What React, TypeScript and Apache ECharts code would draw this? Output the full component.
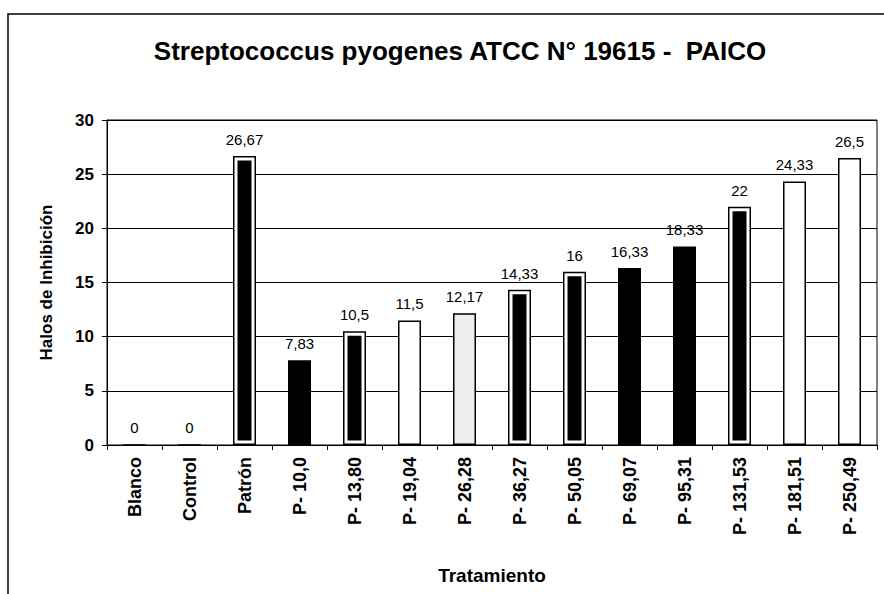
import React, { useEffect, useRef } from "react";
import * as echarts from "echarts";

const categories = [
  "Blanco", "Control", "Patrón", "P- 10,0", "P- 13,80", "P- 19,04", "P- 26,28",
  "P- 36,27", "P- 50,05", "P- 69,07", "P- 95,31", "P- 131,53", "P- 181,51", "P- 250,49",
];
const values = [0, 0, 26.67, 7.83, 10.5, 11.5, 12.17, 14.33, 16, 16.33, 18.33, 22, 24.33, 26.5];
// bar look: "double" = black inside a white ring and black outline, "black" = solid, "white" = hollow, "light" = speckled
const styles = [
  "white", "white", "double", "black", "double", "white", "light",
  "double", "double", "black", "black", "double", "white", "white",
];
const yTicks = [0, 5, 10, 15, 20, 25, 30];

const FONT = "Liberation Sans, Arial, sans-serif";

export default function App() {
  const ref = useRef<HTMLDivElement>(null);
  useEffect(() => {
    if (!ref.current) return;
    const chart = echarts.init(ref.current, null, { renderer: "svg" });
    const fillFor = (s: string) =>
      s === "black" ? "#000" : s === "double" ? "transparent" : s === "light" ? "#eeeeee" : "#fff";
    chart.setOption({
      animation: false,
      backgroundColor: "#fff",
      title: {
        text: "Streptococcus pyogenes ATCC N° 19615 -  PAICO",
        left: 455,
        textAlign: "center",
        top: 33,
        textStyle: { fontFamily: FONT, fontSize: 26, fontWeight: "bold", color: "#000" },
      },
      graphic: [
        {
          type: "rect",
          shape: { x: 8, y: 14, width: 900, height: 600 },
          style: { fill: "none", stroke: "#000", lineWidth: 1.5 },
          silent: true,
        },
      ],
      grid: {
        left: 107,
        top: 120,
        right: 7,
        bottom: 149,
        show: true,
        borderColor: "#000",
        borderWidth: 1,
      },
      xAxis: {
        type: "category",
        data: categories,
        name: "Tratamiento",
        nameLocation: "middle",
        nameGap: 121,
        nameTextStyle: { fontFamily: FONT, fontSize: 19, fontWeight: "bold", color: "#000" },
        axisLine: { lineStyle: { color: "#000", width: 1 } },
        axisTick: { show: true, alignWithLabel: false, length: 5, lineStyle: { color: "#000" } },
        axisLabel: {
          rotate: 90,
          interval: 0,
          margin: 12,
          fontFamily: FONT,
          fontSize: 18,
          fontWeight: "bold",
          color: "#000",
        },
      },
      yAxis: {
        type: "value",
        min: 0,
        max: 30,
        interval: 5,
        name: "Halos de Inhibición",
        nameLocation: "middle",
        nameGap: 52,
        nameTextStyle: { fontFamily: FONT, fontSize: 17, fontWeight: "bold", color: "#000" },
        axisLine: { show: true, lineStyle: { color: "#000", width: 1 } },
        axisTick: { show: true, length: 5, lineStyle: { color: "#000" } },
        splitLine: { show: true, lineStyle: { color: "#000", width: 1 } },
        axisLabel: {
          margin: 13,
          fontFamily: FONT,
          fontSize: 17,
          fontWeight: "bold",
          color: "#000",
          formatter: (v: number) => (yTicks.includes(v) ? String(v) : ""),
        },
      },
      series: [
        {
          type: "bar",
          name: "inner",
          barWidth: 23,
          barGap: "-100%",
          silent: true,
          data: values.map((v, i) =>
            styles[i] === "double"
              ? { value: v, itemStyle: { color: "#000", borderColor: "#fff", borderWidth: 4.5 } }
              : "-"
          ),
        },
        {
          type: "bar",
          name: "outer",
          barWidth: 23,
          barGap: "-100%",
          data: values.map((v, i) => ({
            value: v,
            itemStyle: { color: fillFor(styles[i]), borderColor: "#000", borderWidth: 1.5 },
          })),
          label: {
            show: true,
            position: "top",
            distance: 9,
            fontFamily: FONT,
            fontSize: 15,
            color: "#000",
            formatter: (p: any) => String(p.value).replace(".", ","),
          },
        },
      ],
    });
    return () => chart.dispose();
  }, []);
  return (
    <div
      ref={ref}
      style={{ position: "absolute", left: 0, top: 0, width: 884, height: 594 }}
    />
  );
}
